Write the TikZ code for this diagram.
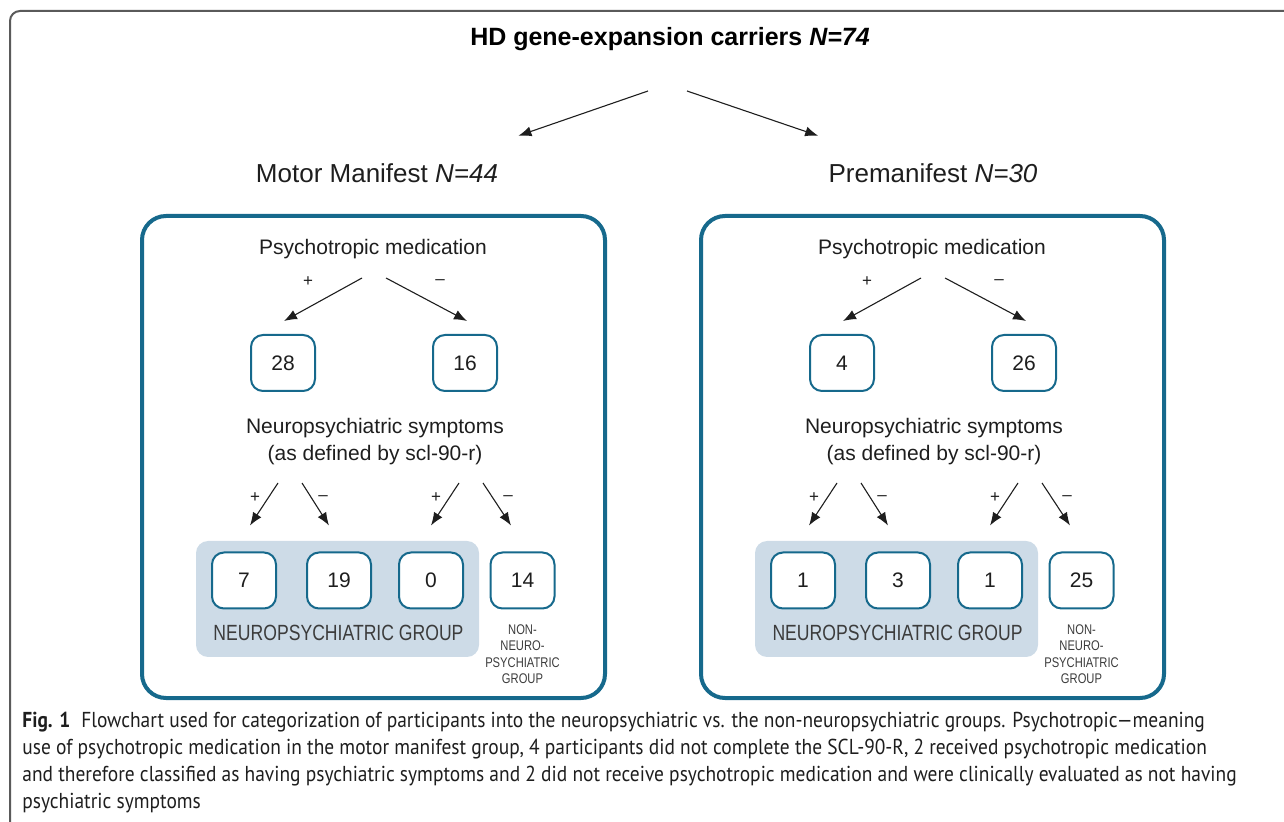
\documentclass[tikz,border=0pt]{standalone}
\usepackage{fontspec}
\setmainfont{Liberation Sans}
\newfontfamily\narrowfont{Liberation Sans}[FakeStretch=0.8]
\newfontfamily\capfont{PT Sans}[FakeStretch=0.9]
\usetikzlibrary{arrows.meta}

\definecolor{panelblue}{HTML}{16698C}
\definecolor{groupshade}{HTML}{CDDBE7}
\definecolor{inkgray}{HTML}{1E1E1E}
\definecolor{softgray}{HTML}{3C3C3C}
\definecolor{framegray}{HTML}{5A5A5A}

\tikzset{
	panel/.style={draw=panelblue, line width=2pt, rounded corners=12pt},
	countbox/.style={draw=panelblue, line width=1pt, rounded corners=6pt, fill=white,
		minimum width=32pt, minimum height=28pt, inner sep=0pt, text=inkgray,
		font=\fontsize{10.5}{12}\selectfont},
	flow/.style={-{Latex[length=6.5pt,width=5pt]}, line width=0.55pt, draw=inkgray},
	sign/.style={font=\fontsize{8.5}{9}\selectfont, text=inkgray, inner sep=0pt},
	headtext/.style={font=\fontsize{13}{15}\selectfont, text=inkgray, anchor=base, inner sep=0pt},
	bodytext/.style={font=\fontsize{10.5}{13.25}\selectfont, text=inkgray, inner sep=0pt},
	grouptext/.style={font=\narrowfont\fontsize{11}{13}\selectfont, text=softgray, anchor=base, inner sep=0pt},
	nontext/.style={font=\narrowfont\fontsize{7}{8.3}\selectfont, text=softgray, align=center, anchor=north, inner sep=0pt},
	captext/.style={font=\capfont\fontsize{10.8}{13}\selectfont, text=inkgray, anchor=base west, inner sep=0pt}
}

\begin{document}
\begin{tikzpicture}[x=0.5pt,y=-0.5pt]
	\useasboundingbox (0,0) rectangle (1284,822);
	% outer frame
	\draw[framegray, line width=1pt, rounded corners=5pt] (10,822) -- (10,11) -- (1284,11);

	\node[font=\bfseries\fontsize{12.5}{15}\selectfont, text=black, anchor=base, inner sep=0pt] (top) at (670,46) {HD gene-expansion carriers \textit{N=74}};
	\coordinate (topl) at (648,91);
	\coordinate (topr) at (687,91);
	\node[headtext] (motor) at (377,183) {Motor Manifest \textit{N=44}};
	\node[headtext] (pre) at (933,183) {Premanifest \textit{N=30}};
	\draw[flow] (topl) -- ([shift={(10pt,14pt)}]motor.north east);
	\draw[flow] (topr) -- ([shift={(-5pt,14pt)}]pre.north west);

	% the two panels
	\foreach \dx/\p/\a/\b/\c/\d/\e/\f in {0/L/28/16/7/19/0/14, 559/R/4/26/1/3/1/25} {
	\begin{scope}[shift={(\dx,0)}]
		\fill[groupshade, rounded corners=6pt] (196,541) rectangle (479,657);
		\draw[panel] (142,216) rectangle (605,698);

		\node[bodytext, anchor=base] (med\p) at (373,255) {Psychotropic medication};
		\coordinate (ma\p) at (362,278);
		\coordinate (mb\p) at (386,278);
		\node[countbox] (pos\p) at (283,363) {\a};
		\node[countbox] (neg\p) at (465,363) {\b};
		\draw[flow] (ma\p) -- ([shift={(0.5pt,6.5pt)}]pos\p.north);
		\draw[flow] (mb\p) -- ([shift={(1pt,6.5pt)}]neg\p.north);
		\node[sign] (mp\p) at (308,282) {+};
		\node[sign] (mm\p) at (440,282) {--};

		\node[bodytext, align=center, anchor=north] (sym\p) at (375,418) {Neuropsychiatric symptoms\\(as defined by scl-90-r)};
		\coordinate (s1\p) at (278,483);
		\coordinate (s2\p) at (302,483);
		\coordinate (s3\p) at (459,483);
		\coordinate (s4\p) at (483,483);
		\node[countbox] (b1\p) at (244,580.5) {\c};
		\node[countbox] (b2\p) at (339,580.5) {\d};
		\node[countbox] (b3\p) at (431,580.5) {\e};
		\node[countbox] (b4\p) at (522.5,580.5) {\f};
		\draw[flow] (s1\p) -- ([shift={(3pt,13pt)}]b1\p.north);
		\draw[flow] (s2\p) -- ([shift={(-5pt,13pt)}]b2\p.north);
		\draw[flow] (s3\p) -- ([shift={(0pt,13pt)}]b3\p.north);
		\draw[flow] (s4\p) -- ([shift={(-5.75pt,13pt)}]b4\p.north);
		\node[sign] (p1\p) at (255,498) {+};
		\node[sign] (n1\p) at (323,498) {--};
		\node[sign] (p2\p) at (436,498) {+};
		\node[sign] (n2\p) at (508,498) {--};

		\node[grouptext] (grp\p) at (338.5,640) {NEUROPSYCHIATRIC GROUP};
		\node[nontext] (non\p) at (522.5,624) {NON-\\NEURO-\\PSYCHIATRIC\\GROUP};
	\end{scope}
	}

	% caption
	\node[captext] (cap1) at (22,727) {\textbf{Fig. 1}\hspace{5.5pt}Flowchart used for categorization of participants into the neuropsychiatric vs. the non-neuropsychiatric groups. Psychotropic—meaning};
	\node[captext] (cap2) at (22,754) {use of psychotropic medication in the motor manifest group, 4 participants did not complete the SCL-90-R, 2 received psychotropic medication};
	\node[captext] (cap3) at (22,781) {and therefore classified as having psychiatric symptoms and 2 did not receive psychotropic medication and were clinically evaluated as not having};
	\node[captext] (cap4) at (22,808) {psychiatric symptoms};
\end{tikzpicture}
\end{document}
